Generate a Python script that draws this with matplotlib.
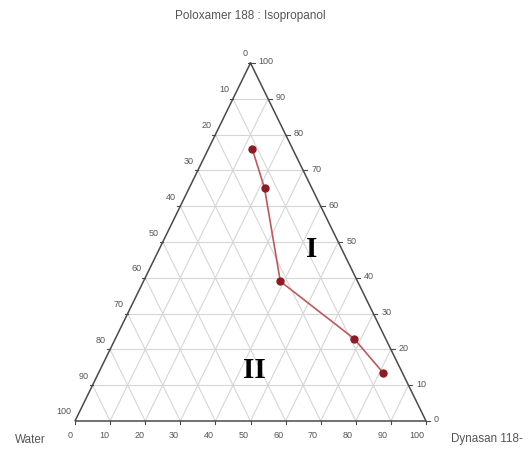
import matplotlib
matplotlib.use("Agg")
import matplotlib.pyplot as plt

# Composition of the phase boundary (percent of each component)
poloxamer_ipa = [76, 65, 39, 23, 13.5]      # top vertex: Poloxamer 188 : Isopropanol
dynasan = [12.5, 21.5, 39, 68, 81]         # right vertex: Dynasan 118
water = [100 - a - b for a, b in zip(poloxamer_ipa, dynasan)]  # left vertex

tick_values = list(range(0, 101, 10))
title = "Poloxamer 188 : Isopropanol"
left_name = "Water"
right_name = "Dynasan 118-"
region_labels = ["I", "II"]
region_pos = [(43.5, 48), (44, 14.2)]  # (dynasan, top) positions of the region labels

# Triangle frame in the axes' pixel-like coordinate system
X0, X1, YB, YT = 75.0, 426.0, 421.0, 63.0
W, H = X1 - X0, YB - YT


def to_xy(top, right):
    """Ternary composition (top %, right %) -> plane coordinates."""
    x = X0 + (right + top / 2.0) / 100.0 * W
    y = YB - top / 100.0 * H
    return x, y


fig = plt.figure(figsize=(5.30, 4.49), dpi=100)
ax = fig.add_axes([0, 0, 1, 1])
ax.set_xlim(0, 530)
ax.set_ylim(449, 0)
ax.axis("off")

font = "Liberation Sans"
grid_c = "#d6d6d6"
edge_c = "#4a4a4a"
txt_c = "#555555"

# grid
for v in tick_values[1:-1]:
    # constant top component (horizontal)
    xa, ya = to_xy(v, 0)
    xb, yb = to_xy(v, 100 - v)
    ax.plot([xa, xb], [ya, yb], color=grid_c, lw=0.8, zorder=1)
    # constant right component
    xa, ya = to_xy(0, v)
    xb, yb = to_xy(100 - v, v)
    ax.plot([xa, xb], [ya, yb], color=grid_c, lw=0.8, zorder=1)
    # constant left component
    xa, ya = to_xy(0, 100 - v)
    xb, yb = to_xy(100 - v, 0)
    ax.plot([xa, xb], [ya, yb], color=grid_c, lw=0.8, zorder=1)

# frame
corners = [to_xy(100, 0), to_xy(0, 0), to_xy(0, 100), to_xy(100, 0)]
ax.plot([c[0] for c in corners], [c[1] for c in corners], color=edge_c, lw=1.1,
        zorder=2, solid_joinstyle="miter")

fs = 6.5
# left axis (water): 0 at apex, 100 at bottom-left
for v in tick_values:
    x, y = to_xy(100 - v, 0)
    if v < 100:
        ax.plot([x, x - 3], [y, y], color=edge_c, lw=0.8, zorder=2)
    if v == 0:
        ax.text(x - 5, y - 9, "0", ha="center", va="center", fontsize=fs,
                color=txt_c, family=font)
    else:
        ax.text(x - 4, y - 9, str(v), ha="right", va="center", fontsize=fs,
                color=txt_c, family=font)

# right axis (top component): 100 at apex, 0 at bottom-right
for v in tick_values:
    x, y = to_xy(v, 100 - v)
    ax.plot([x, x + 4], [y, y], color=edge_c, lw=0.8, zorder=2)
    ax.text(x + 8, y - 1, str(v), ha="left", va="center", fontsize=fs,
            color=txt_c, family=font)

# bottom axis (Dynasan 118): 0 at left, 100 at right
for v in tick_values:
    x, y = to_xy(0, v)
    ax.plot([x, x], [y, y + 3], color=edge_c, lw=0.8, zorder=2)
    ax.text(x - 5 - v * 0.04, y + 14, str(v), ha="center", va="center",
            fontsize=fs, color=txt_c, family=font)

# names
ax.text(250, 16, title, ha="center", va="center", fontsize=8.5, color=txt_c,
        family=font)
ax.text(30, 440, left_name, ha="center", va="center", fontsize=8.4,
        color=txt_c, family=font)
ax.text(451, 439, right_name, ha="left", va="center", fontsize=8.4,
        color=txt_c, family=font)

# phase boundary
px, py = zip(*[to_xy(t, r) for t, r in zip(poloxamer_ipa, dynasan)])
ax.plot(px, py, color="#c0585c", lw=1.2, zorder=3)
ax.plot(px, py, ls="none", marker="o", ms=5, color="#8e1b24",
        markeredgecolor="#8e1b24", zorder=4)

# region labels
for lab, (r, t) in zip(region_labels, region_pos):
    x, y = to_xy(t, r)
    ax.text(x, y, lab, ha="center", va="center", fontsize=21,
            fontweight="bold", family="Liberation Serif", color="black",
            zorder=5)

fig.savefig("out.png", dpi=100)
